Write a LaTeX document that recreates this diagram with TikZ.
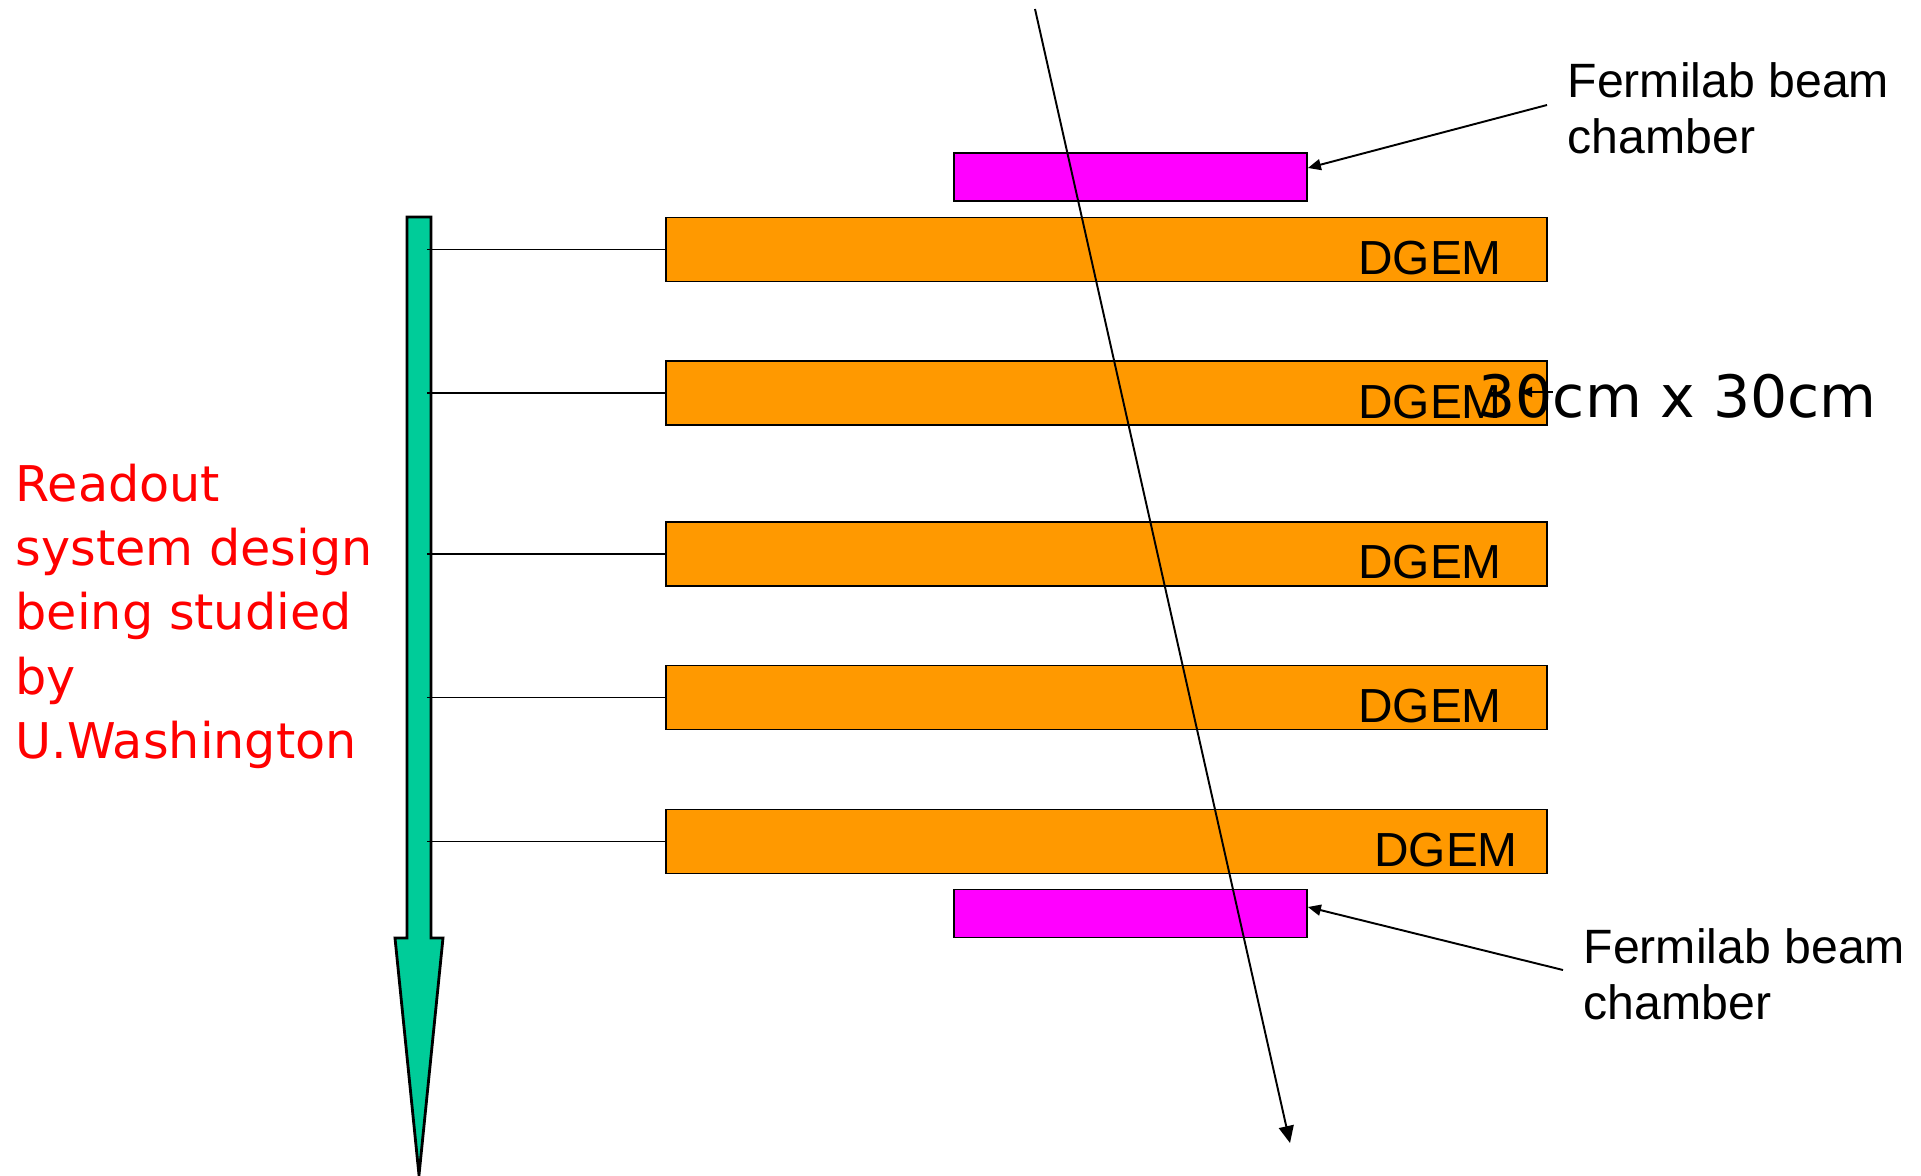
\documentclass[tikz,border=0pt]{standalone}
\usepackage{fontspec}
\setmainfont{Liberation Sans}
\newfontfamily\handfont{DejaVu Sans}
\usetikzlibrary{arrows.meta}

\definecolor{dgemorange}{RGB}{255,153,0}
\definecolor{chambermag}{RGB}{255,0,255}
\definecolor{readgreen}{RGB}{0,204,153}

\tikzset{
  dgem/.style={draw, line width=0.45pt, fill=dgemorange, minimum width=8.81cm, minimum height=0.64cm, inner sep=0pt},
  chamber/.style={draw, line width=0.45pt, fill=chambermag, minimum width=3.53cm, minimum height=0.48cm, inner sep=0pt},
  dgemtext/.style={font=\fontsize{13.6}{16}\selectfont, inner sep=0pt},
  beamtext/.style={font=\fontsize{13.7}{15.9}\selectfont, align=left, inner sep=0pt, anchor=base west},
  tap/.style={line width=0.55pt},
}

\begin{document}
\begin{tikzpicture}[x=0.01cm,y=-0.01cm]
    \useasboundingbox (0,0) rectangle (1921,1176);

    % readout arrow
    \filldraw[fill=readgreen, line width=0.8pt, line join=miter]
      (407,217) -- (431,217) -- (431,938) -- (443,938) -- (419,1175) -- (395,938) -- (407,938) -- cycle;

    % chambers
    \node[chamber] (m1) at (1130.5,177) {};
    \node[chamber] (m2) at (1130.5,913.5) {};

    % detector planes
    \node[dgem] (d1) at (1106.5,249.5) {};
    \node[dgem] (d2) at (1106.5,393) {};
    \node[dgem] (d3) at (1106.5,554) {};
    \node[dgem] (d4) at (1106.5,697.5) {};
    \node[dgem] (d5) at (1106.5,841.5) {};

    \node[dgemtext] (t1) at (1430,258) {DGEM};
    \node[dgemtext] (t2) at (1430,402) {DGEM};
    \node[dgemtext] (t3) at (1430,562) {DGEM};
    \node[dgemtext] (t4) at (1430,706) {DGEM};
    \node[dgemtext] (t5) at (1446,850) {DGEM};

    % taps from readout
    \coordinate (g1) at (427,249.5);
    \coordinate (g2) at (427,393);
    \coordinate (g3) at (427,554);
    \coordinate (g4) at (427,697.5);
    \coordinate (g5) at (427,841.5);
    \foreach \i in {1,...,5}
      \draw[tap] (g\i) -- (d\i.west);

    % track
    \coordinate (trk) at (1035,9);
    \coordinate (hit) at (1290,1143);
    \draw[line width=0.55pt, -{Triangle[length=0.17cm,width=0.15cm]}] (trk) -- (hit);

    % beam chamber labels
    \node[beamtext] (f1) at (1567,153) {Fermilab beam\\chamber};
    \node[beamtext] (f2) at (1583,1019) {Fermilab beam\\chamber};
    \coordinate (f1a) at (1547,105);
    \coordinate (f2a) at (1563,970);
    \draw[line width=0.55pt, -{Triangle[length=0.13cm,width=0.11cm]}] (f1a) -- ([yshift=0.09cm]m1.east);
    \draw[line width=0.55pt, -{Triangle[length=0.13cm,width=0.11cm]}] (f2a) -- ([yshift=0.065cm]m2.east);

    % size
    \coordinate (s1) at (1553,392);
    \coordinate (s2) at (1520,392);
    \draw[line width=0.55pt, -{Triangle[length=0.12cm,width=0.1cm]}] (s1) -- (s2);
    \node[font=\handfont\fontsize{16.6}{20}\selectfont, inner sep=0pt, anchor=base west] (size) at (1478,417) {30cm x 30cm};

    % readout note
    \node[font=\handfont\fontsize{14}{18.2}\selectfont, text=red, align=left, inner sep=0pt, anchor=base west] (note) at (15,758)
      {Readout\\system design\\being studied\\by\\U.Washington};
\end{tikzpicture}
\end{document}
